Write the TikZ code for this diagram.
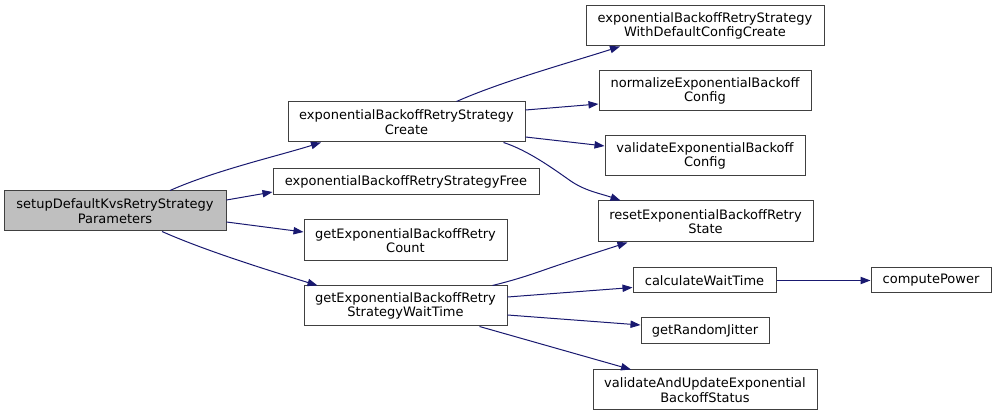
\documentclass[tikz,border=0pt]{standalone}
\usepackage{fontspec}
\setmainfont{DejaVu Sans}
\usetikzlibrary{arrows.meta,calc}
\definecolor{edgeblue}{HTML}{191970}
\definecolor{boxline}{HTML}{404040}
\definecolor{rootfill}{HTML}{BFBFBF}
\begin{document}
\begin{tikzpicture}[x=0.75pt,y=-0.75pt,
  fn/.style={draw=boxline,line width=0.75pt,fill=white,inner sep=0pt,align=center,
    font=\fontsize{9.75pt}{11pt}\selectfont,text=black},
  e/.style={draw=edgeblue,line width=0.75pt,-{Triangle[length=7.5pt,width=5.5pt,fill=edgeblue]}}]
\useasboundingbox (0,0) rectangle (996,416);
% nodes
\node[fn,fill=rootfill,minimum width=222*0.75pt,minimum height=40*0.75pt] (setup) at (115,211) {setupDefaultKvsRetryStrategy\\Parameters};
\node[fn,minimum width=237*0.75pt,minimum height=40*0.75pt] (create) at (406.5,122) {exponentialBackoffRetryStrategy\\Create};
\node[fn,minimum width=266*0.75pt,minimum height=26*0.75pt] (free) at (406,182) {exponentialBackoffRetryStrategyFree};
\node[fn,minimum width=203*0.75pt,minimum height=41*0.75pt] (count) at (405.5,240.5) {getExponentialBackoffRetry\\Count};
\node[fn,minimum width=203*0.75pt,minimum height=40*0.75pt] (wait) at (405.5,306) {getExponentialBackoffRetry\\StrategyWaitTime};
\node[fn,minimum width=238*0.75pt,minimum height=40*0.75pt] (withdef) at (705,26) {exponentialBackoffRetryStrategy\\WithDefaultConfigCreate};
\node[fn,minimum width=212*0.75pt,minimum height=40*0.75pt] (normalize) at (705,91) {normalizeExponentialBackoff\\Config};
\node[fn,minimum width=200*0.75pt,minimum height=40*0.75pt] (validate) at (705,156) {validateExponentialBackoff\\Config};
\node[fn,minimum width=215*0.75pt,minimum height=41*0.75pt] (reset) at (705.5,221.5) {resetExponentialBackoffRetry\\State};
\node[fn,minimum width=143*0.75pt,minimum height=25*0.75pt] (calc) at (704.5,280.5) {calculateWaitTime};
\node[fn,minimum width=120*0.75pt,minimum height=25*0.75pt] (compute) at (931,280.5) {computePower};
\node[fn,minimum width=128*0.75pt,minimum height=26*0.75pt] (jitter) at (705,331) {getRandomJitter};
\node[fn,minimum width=224*0.75pt,minimum height=40*0.75pt] (vaue) at (705,390) {validateAndUpdateExponential\\BackoffStatus};
% edges
\draw[e] ($(setup.north)+(55,0)$) .. controls +(45,-20) and +(-45,14) .. ($(create.south)+(-85.5,0)$);
\draw[e] ($(setup.east)+(0,-11)$) -- ($(free.west)+(0,10)$);
\draw[e] ($(setup.east)+(0,11)$) -- ($(count.west)+(0,-8.5)$);
\draw[e] ($(setup.south)+(47,0)$) .. controls +(45,20) and +(-45,-14) .. ($(wait.north)+(-88,0)$);
\draw[e] ($(create.north)+(50,0)$) .. controls +(45,-20) and +(-50,16) .. ($(withdef.south)+(-85,0)$);
\draw[e] ($(create.east)+(0,-12)$) -- ($(normalize.west)+(0,13)$);
\draw[e] ($(create.east)+(0,15)$) -- ($(validate.west)+(0,-10)$);
\draw[e] ($(create.south)+(97,0)$) .. controls +(25,8) and +(-15,-10.5) .. ($(create.south)+(163.5,38)$) .. controls +(15,10.5) and +(-20,-7) .. ($(reset.north)+(-85,0)$);
\draw[e] ($(wait.north)+(87,0)$) .. controls +(20,-5) and +(-20,7) .. ($(wait.north)+(140,-16)$) .. controls +(20,-7) and +(-25,8) .. ($(reset.south)+(-78,0)$);
\draw[e] ($(wait.east)+(0,-9)$) -- ($(calc.west)+(0,7)$);
\draw[e] ($(wait.east)+(0,9)$) -- ($(jitter.west)+(0,-6)$);
\draw[e] ($(wait.south)+(74,0)$) -- ($(vaue.north)+(-74,0)$);
\draw[e] (calc.east) -- (compute.west);
\end{tikzpicture}
\end{document}
